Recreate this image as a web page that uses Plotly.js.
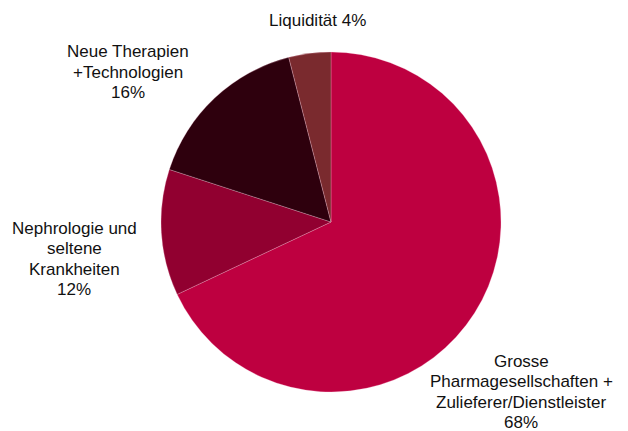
<!DOCTYPE html>
<html>
<head>
<meta charset="utf-8">
<script src="https://cdn.plot.ly/plotly-3.0.1.min.js"></script>
<style>
html,body{margin:0;padding:0;background:#fff;}
#chart{width:628px;height:431px;}
</style>
</head>
<body>
<div id="chart"></div>
<script>
var categories = [
  "Grosse|Pharmagesellschaften +|Zulieferer/Dienstleister",
  "Nephrologie und|seltene|Krankheiten",
  "Neue Therapien|+Technologien",
  "Liquidität"
];
var shares = [68, 12, 16, 4];
var sliceColors = ["#BE0040", "#910030", "#2E000D", "#7A2A2E"];

// label block centre (pixels) and whether the percent goes on its own line
var labelPos = [
  {x: 521, y: 392, ownLine: true},
  {x: 74,  y: 259, ownLine: true},
  {x: 128, y: 72,  ownLine: true},
  {x: 317, y: 20,  ownLine: false}
];
var lineStep = 20.3;

var annotations = [];
categories.forEach(function(c, i) {
  var lines = c.split("|");
  if (labelPos[i].ownLine) lines.push(shares[i] + "%");
  else lines[lines.length - 1] += " " + shares[i] + "%";
  var n = lines.length;
  lines.forEach(function(t, k) {
    var py = labelPos[i].y + (k - (n - 1) / 2) * lineStep;
    annotations.push({
      text: t,
      x: labelPos[i].x / 628, y: 1 - py / 431,
      xref: "paper", yref: "paper",
      xanchor: "center", yanchor: "middle",
      showarrow: false, align: "center", borderpad: 0,
      font: {family: "Liberation Sans, Arial, sans-serif", size: 17, color: "#111"}
    });
  });
});

var trace = {
  type: "pie",
  labels: categories.map(function(c){ return c.replace(/\|/g, " "); }),
  values: shares,
  sort: false,
  direction: "clockwise",
  rotation: 0,
  textinfo: "none",
  hoverinfo: "label+percent",
  marker: {colors: sliceColors, line: {color: "rgba(255,200,220,0.45)", width: 0.6}},
  domain: {x: [161/628, 501/628], y: [39/431, 379/431]},
  showlegend: false
};

Plotly.newPlot("chart", [trace], {
  width: 628, height: 431,
  margin: {l: 0, r: 0, t: 0, b: 0},
  paper_bgcolor: "#fff",
  showlegend: false,
  annotations: annotations
}, {displayModeBar: false, staticPlot: true});
</script>
</body>
</html>
